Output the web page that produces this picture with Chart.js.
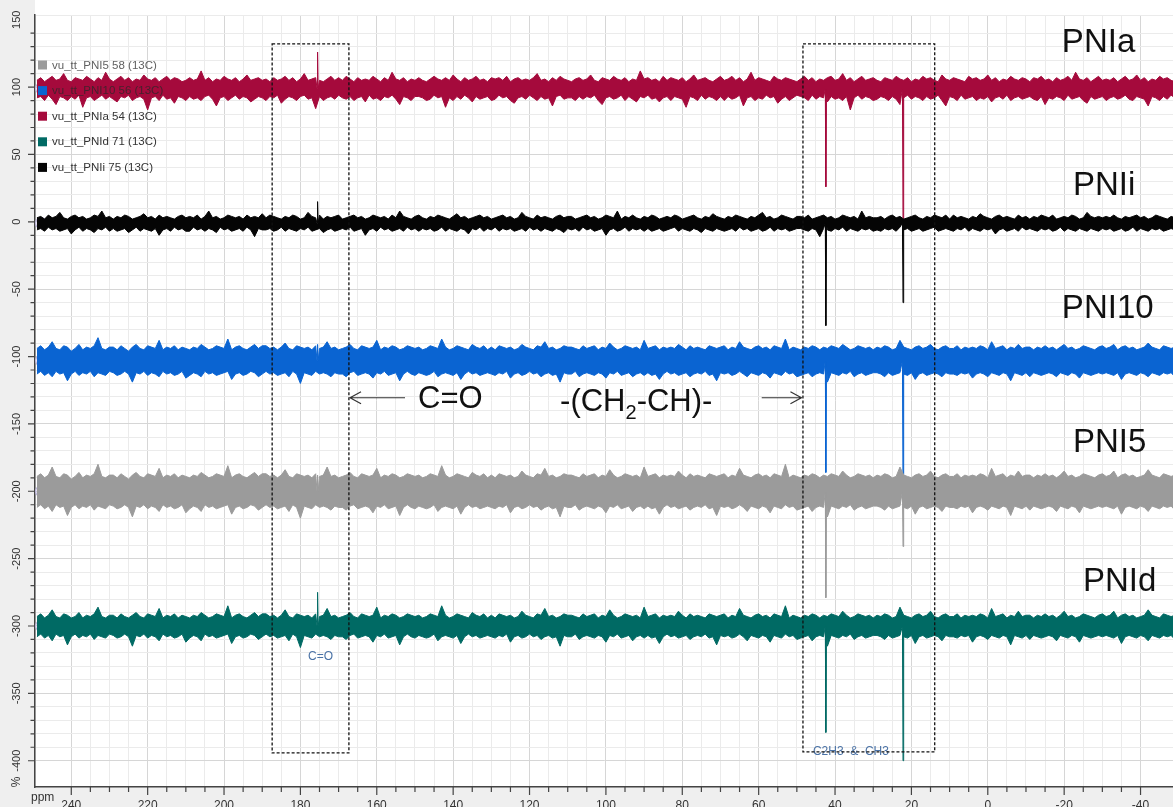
<!DOCTYPE html>
<html lang="en">
<head>
<meta charset="UTF-8">
<title>13C spectra PNI</title>
<script src="https://cdn.jsdelivr.net/npm/chart.js@4.4.1/dist/chart.umd.min.js"></script>
<style>
  html, body { margin: 0; padding: 0; background: #fff; overflow: hidden; }
  #wrap { width: 1173px; height: 807px; position: relative; }
</style>
</head>
<body>
<div id="wrap"><canvas id="nmr" width="1173" height="807"></canvas></div>
<script>
// each spectrum is stored as the upper / lower edge of its noise band,
// one value per ppm starting at ppmStart, relative to the trace baseline
const ppmStart = 249;
const peakPpm = [175.5, 42.4, 22.2];   // C=O, CH, CH2/CH3

const xTickLabels = [240, 220, 200, 180, 160, 140, 120, 100, 80, 60, 40, 20, 0, -20, -40];
const yTickLabels = [150, 100, 50, 0, -50, -100, -150, -200, -250, -300, -350, -400];

const pniaBase = 99;
const pniaPeaks = [27, -73, -100];
const pniaHi = [
  6,8,5,7,9,6,7,11,6,5,8,7,6,9,7,5,8,6,12,7,
  5,7,9,6,8,5,7,6,10,7,6,8,5,7,9,6,8,7,5,6,
  8,6,7,13,6,8,5,7,6,9,7,6,8,5,7,10,6,7,8,6,
  7,5,8,6,7,9,6,8,5,7,11,6,7,8,6,5,7,9,6,8,
  6,9,7,5,8,6,7,6,9,7,5,8,6,12,7,6,8,5,7,6,
  8,6,5,7,9,7,6,8,6,10,7,5,8,6,7,9,6,7,5,8,
  7,8,6,9,5,7,8,6,7,6,8,11,6,7,5,8,6,9,7,6,
  5,7,8,6,7,10,6,5,8,7,6,9,7,6,8,5,7,6,13,7,
  8,6,7,5,9,6,8,7,6,8,5,7,10,6,7,8,6,5,7,9,
  6,7,9,6,8,5,7,12,6,8,7,6,5,9,7,6,8,7,6,5,
  7,9,6,8,5,7,6,8,9,6,7,11,6,8,5,7,9,6,7,8,
  6,5,8,7,6,9,7,6,8,5,7,6,9,7,8,6,5,10,7,6,
  8,7,6,5,9,7,8,6,7,10,6,8,5,7,6,9,7,6,8,7,
  5,8,7,9,6,7,5,8,6,7,9,6,12,7,6,8,5,7,9,6,
  7,6,8,5,7,9,6,7,10,6,8,5,7,6,9,7,8,6,5,7
];
const pniaLo = [
  -7,-6,-9,-5,-8,-12,-6,-7,-9,-6,-8,-5,-14,-7,-6,-9,-7,-5,-8,-6,
  -8,-10,-6,-7,-5,-9,-7,-6,-8,-16,-7,-6,-9,-5,-8,-7,-11,-6,-7,-9,
  -6,-8,-7,-9,-6,-5,-8,-13,-7,-6,-9,-7,-5,-8,-6,-7,-10,-8,-6,-7,
  -9,-6,-7,-5,-11,-8,-6,-7,-9,-6,-5,-8,-7,-15,-6,-9,-7,-6,-8,-5,
  -7,-8,-6,-9,-7,-6,-10,-5,-8,-7,-9,-6,-7,-5,-8,-12,-6,-7,-9,-6,
  -6,-7,-9,-8,-5,-7,-6,-14,-7,-9,-6,-8,-5,-7,-10,-6,-8,-7,-6,-9,
  -8,-5,-7,-6,-9,-11,-7,-6,-8,-5,-7,-9,-6,-8,-7,-13,-6,-5,-8,-7,
  -7,-9,-6,-8,-6,-7,-5,-9,-12,-7,-6,-8,-7,-5,-9,-6,-8,-10,-6,-7,
  -5,-8,-7,-10,-7,-6,-9,-6,-7,-8,-14,-6,-7,-9,-5,-8,-6,-7,-9,-6,
  -9,-6,-8,-7,-5,-13,-7,-6,-9,-7,-8,-5,-7,-6,-11,-8,-6,-9,-7,-5,
  -6,-7,-9,-5,-8,-6,-7,-10,-6,-8,-7,-9,-6,-16,-7,-5,-8,-6,-7,-9,
  -8,-6,-7,-9,-6,-8,-12,-7,-5,-8,-6,-7,-9,-6,-8,-7,-5,-9,-13,-6,
  -7,-9,-5,-8,-7,-6,-9,-7,-8,-6,-10,-7,-6,-8,-5,-9,-7,-6,-8,-7,
  -6,-8,-9,-6,-12,-7,-8,-6,-7,-9,-5,-8,-7,-6,-9,-11,-6,-8,-7,-6,
  -9,-7,-6,-8,-7,-5,-8,-9,-6,-7,-8,-13,-6,-7,-9,-6,-8,-5,-7,-8
];

const pniiBase = -1;
const pniiPeaks = [16, -76, -59];
const pniiHi = [
  4,5,3,6,4,5,8,4,3,5,6,4,5,3,4,6,5,9,4,5,
  3,5,4,6,5,3,4,5,7,4,5,3,6,4,5,4,3,5,6,4,
  5,4,6,3,5,9,4,5,3,4,6,5,4,5,3,6,4,5,4,7,
  4,6,5,4,3,5,4,6,5,3,4,8,5,4,6,3,5,4,5,6,
  3,4,5,6,4,5,3,4,6,5,4,5,3,6,4,9,5,4,3,5,
  6,4,3,5,4,6,5,4,3,5,7,4,5,3,4,5,6,4,5,3,
  4,5,6,4,5,3,4,8,5,4,3,6,4,5,4,3,5,6,4,5,
  5,3,4,5,6,4,5,3,4,6,5,4,9,3,5,4,6,4,3,5,
  4,6,5,3,4,5,4,6,5,3,4,5,6,4,3,5,4,7,5,4,
  3,5,4,6,5,4,3,5,4,6,8,4,5,3,4,6,5,4,3,5,
  5,4,6,3,4,5,6,4,5,3,4,6,5,4,5,3,9,4,5,4,
  4,5,3,5,6,4,5,3,4,5,6,4,3,5,4,6,5,4,6,3,
  6,4,5,4,3,5,4,7,5,4,3,5,6,4,5,4,3,6,4,5,
  3,5,4,6,5,4,6,3,4,5,4,6,5,3,4,8,5,4,5,4,
  5,4,6,4,3,5,4,5,6,4,5,3,4,6,5,4,3,5,4,6
];
const pniiLo = [
  -5,-4,-6,-3,-5,-4,-6,-5,-4,-8,-5,-3,-6,-4,-5,-7,-4,-5,-3,-6,
  -4,-6,-5,-4,-7,-5,-3,-6,-4,-5,-6,-4,-9,-5,-4,-6,-3,-5,-4,-6,
  -6,-3,-5,-4,-6,-4,-5,-7,-3,-5,-4,-6,-5,-4,-6,-3,-5,-10,-4,-5,
  -5,-4,-6,-5,-3,-6,-4,-5,-6,-4,-5,-3,-6,-5,-4,-7,-5,-4,-6,-5,
  -4,-5,-3,-6,-5,-4,-9,-5,-4,-6,-3,-5,-4,-6,-5,-4,-6,-3,-5,-4,
  -6,-4,-5,-4,-6,-5,-3,-6,-4,-5,-6,-4,-5,-8,-4,-5,-3,-6,-4,-5,
  -3,-6,-4,-5,-4,-6,-5,-4,-6,-3,-5,-4,-6,-4,-5,-6,-4,-5,-7,-4,
  -5,-4,-6,-3,-5,-4,-6,-5,-4,-9,-5,-4,-6,-5,-3,-6,-4,-5,-4,-6,
  -4,-6,-5,-4,-6,-5,-4,-3,-6,-4,-5,-6,-4,-5,-7,-4,-5,-6,-4,-5,
  -6,-5,-4,-6,-3,-5,-4,-6,-5,-4,-6,-5,-3,-6,-4,-5,-4,-6,-5,-4,
  -4,-5,-6,-4,-5,-10,-4,-5,-6,-4,-5,-3,-6,-4,-5,-6,-4,-5,-4,-6,
  -5,-6,-4,-5,-4,-6,-3,-5,-4,-6,-5,-4,-6,-5,-4,-3,-6,-5,-4,-5,
  -6,-4,-5,-3,-6,-4,-5,-6,-4,-5,-4,-8,-5,-4,-6,-5,-4,-6,-3,-5,
  -4,-5,-6,-4,-5,-4,-6,-5,-3,-6,-4,-5,-6,-4,-5,-6,-4,-5,-6,-4,
  -5,-4,-6,-5,-4,-6,-5,-3,-6,-4,-5,-6,-4,-5,-4,-6,-5,-4,-5,-6
];

const pni10Base = -103;
const pni10Peaks = [12, -83, -103];
const pni10Hi = [
  9,11,8,10,14,9,8,11,10,7,9,12,8,10,9,11,17,9,8,10,
  10,8,11,9,7,10,12,9,8,11,10,9,15,8,10,9,11,8,10,9,
  8,10,9,12,10,8,9,11,10,9,16,8,10,11,9,8,10,12,9,11,
  11,9,10,8,10,13,9,8,11,10,9,10,8,11,9,10,14,9,10,8,
  9,10,12,9,8,11,10,9,10,15,8,10,9,11,10,8,9,11,10,9,
  10,8,9,11,10,9,16,10,8,9,11,10,9,8,12,10,9,11,8,10,
  8,11,10,9,10,8,9,12,10,9,8,11,10,14,9,10,8,9,11,10,
  10,9,8,11,9,10,11,8,10,9,13,10,8,9,11,10,9,10,8,15,
  9,10,11,8,10,9,10,9,12,10,8,11,9,10,9,8,11,10,9,10,
  11,8,10,9,14,10,9,8,10,11,9,10,8,11,10,9,16,8,10,9,
  8,10,9,11,10,8,10,9,11,10,9,12,10,8,9,11,10,9,10,8,
  10,9,11,10,8,9,15,10,9,8,10,11,9,10,12,9,8,10,11,9,
  9,11,8,10,9,10,9,11,10,8,14,9,10,11,8,10,9,12,9,10,
  10,8,10,9,11,9,10,8,10,12,9,10,8,9,11,10,9,8,10,11,
  9,10,12,8,10,11,9,10,8,9,10,13,10,9,8,11,10,9,10,8
];
const pni10Lo = [
  -10,-8,-11,-9,-12,-8,-10,-9,-15,-10,-8,-11,-9,-10,-8,-12,-9,-10,-11,-8,
  -9,-11,-10,-8,-10,-16,-9,-10,-8,-11,-9,-10,-12,-8,-10,-9,-11,-10,-8,-13,
  -11,-9,-10,-12,-8,-10,-9,-11,-10,-9,-8,-14,-10,-9,-11,-10,-8,-9,-12,-10,
  -8,-10,-9,-11,-10,-9,-12,-8,-10,-17,-9,-10,-11,-8,-10,-9,-10,-12,-9,-10,
  -10,-12,-9,-8,-11,-10,-9,-10,-13,-9,-10,-8,-11,-10,-9,-15,-10,-8,-10,-11,
  -9,-10,-11,-10,-8,-12,-10,-9,-10,-11,-9,-14,-10,-8,-10,-9,-11,-10,-9,-10,
  -11,-9,-10,-8,-13,-10,-9,-11,-10,-8,-10,-9,-12,-10,-9,-11,-10,-16,-9,-10,
  -10,-8,-12,-10,-9,-10,-11,-9,-10,-13,-9,-10,-8,-11,-10,-9,-12,-10,-9,-11,
  -9,-11,-10,-14,-10,-8,-10,-9,-11,-10,-9,-12,-10,-9,-10,-8,-11,-10,-15,-9,
  -10,-9,-11,-10,-8,-10,-12,-9,-10,-11,-9,-10,-13,-9,-10,-11,-8,-10,-9,-12,
  -11,-10,-9,-12,-10,-9,-10,-16,-9,-10,-11,-9,-10,-8,-12,-10,-9,-11,-10,-9,
  -9,-10,-12,-9,-11,-10,-9,-10,-11,-9,-14,-10,-9,-11,-10,-9,-10,-12,-9,-10,
  -10,-11,-9,-10,-9,-13,-10,-9,-10,-12,-9,-10,-11,-9,-10,-15,-9,-10,-11,-9,
  -12,-9,-10,-11,-10,-9,-10,-12,-9,-10,-11,-9,-10,-13,-9,-10,-11,-10,-9,-10,
  -9,-10,-11,-9,-14,-10,-9,-10,-11,-9,-10,-12,-9,-10,-11,-9,-10,-9,-12,-10
];

const pni5Base = -200;
const pni5Peaks = [12, -79, -41];
const pni5Hi = [
  11,13,10,12,18,11,10,13,12,9,11,14,10,12,11,13,20,11,10,12,
  12,10,13,11,9,12,14,11,10,13,12,11,17,10,12,11,13,10,12,11,
  10,12,11,14,12,10,11,13,12,11,19,10,12,13,11,10,12,14,11,13,
  13,11,12,10,12,16,11,10,13,12,11,12,10,13,11,12,18,11,12,10,
  11,12,14,11,10,13,12,11,12,17,10,12,11,13,12,10,11,13,12,11,
  12,10,11,13,12,11,19,12,10,11,13,12,11,10,14,12,11,13,10,12,
  10,13,12,11,12,10,11,15,12,11,10,13,12,17,11,12,10,11,13,12,
  12,11,10,13,11,12,13,10,12,11,16,12,10,11,13,12,11,12,10,18,
  11,12,13,10,12,11,12,11,15,12,10,13,11,12,11,10,13,12,11,12,
  13,10,12,11,17,12,11,10,12,13,11,12,10,13,12,11,20,10,12,11,
  10,12,11,13,12,10,12,11,13,12,11,15,12,10,11,13,12,11,12,10,
  12,11,13,12,10,11,18,12,11,10,12,13,11,12,15,11,10,12,13,11,
  11,13,10,12,11,12,11,13,12,10,17,11,12,13,10,12,11,15,11,12,
  12,10,12,11,13,11,12,10,12,15,11,12,10,11,13,12,11,10,12,13,
  11,12,15,10,12,13,11,12,10,11,12,16,12,11,10,13,12,11,12,10
];
const pni5Lo = [
  -12,-10,-13,-11,-15,-10,-12,-11,-18,-12,-10,-13,-11,-12,-10,-14,-11,-12,-13,-10,
  -11,-13,-12,-10,-12,-19,-11,-12,-10,-13,-11,-12,-15,-10,-12,-11,-13,-12,-10,-16,
  -13,-11,-12,-15,-10,-12,-11,-13,-12,-11,-10,-17,-12,-11,-13,-12,-10,-11,-14,-12,
  -10,-12,-11,-13,-12,-11,-15,-10,-12,-20,-11,-12,-13,-10,-12,-11,-12,-14,-11,-12,
  -12,-14,-11,-10,-13,-12,-11,-12,-16,-11,-12,-10,-13,-12,-11,-18,-12,-10,-12,-13,
  -11,-12,-13,-12,-10,-15,-12,-11,-12,-13,-11,-17,-12,-10,-12,-11,-13,-12,-11,-12,
  -13,-11,-12,-10,-16,-12,-11,-13,-12,-10,-12,-11,-14,-12,-11,-13,-12,-19,-11,-12,
  -12,-10,-14,-12,-11,-12,-13,-11,-12,-16,-11,-12,-10,-13,-12,-11,-15,-12,-11,-13,
  -11,-13,-12,-17,-12,-10,-12,-11,-13,-12,-11,-14,-12,-11,-12,-10,-13,-12,-18,-11,
  -12,-11,-13,-12,-10,-12,-15,-11,-12,-13,-11,-12,-16,-11,-12,-13,-10,-12,-11,-14,
  -13,-12,-11,-15,-12,-11,-12,-19,-11,-12,-13,-11,-12,-10,-14,-12,-11,-13,-12,-11,
  -11,-12,-14,-11,-13,-12,-11,-12,-13,-11,-17,-12,-11,-13,-12,-11,-12,-15,-11,-12,
  -12,-13,-11,-12,-11,-16,-12,-11,-12,-14,-11,-12,-13,-11,-12,-18,-11,-12,-13,-11,
  -14,-11,-12,-13,-12,-11,-12,-15,-11,-12,-13,-11,-12,-16,-11,-12,-13,-12,-11,-12,
  -11,-12,-13,-11,-17,-12,-11,-12,-13,-11,-12,-15,-11,-12,-13,-11,-12,-11,-14,-12
];

const pnidBase = -300;
const pnidPeaks = [25, -79, -100];
const pnidHi = [
  7,9,6,8,12,7,6,9,8,6,7,10,6,8,7,9,14,7,6,8,
  8,6,9,7,6,8,10,7,6,9,8,7,13,6,8,7,9,6,8,7,
  6,8,7,10,8,6,7,9,8,7,15,6,8,9,7,6,8,10,7,9,
  9,7,8,6,8,12,7,6,9,8,7,8,6,9,7,8,13,7,8,6,
  7,8,10,7,6,9,8,7,8,14,6,8,7,9,8,6,7,9,8,7,
  8,6,7,9,8,7,15,8,6,7,9,8,7,6,10,8,7,9,6,8,
  6,9,8,7,8,6,7,11,8,7,6,9,8,13,7,8,6,7,9,8,
  8,7,6,9,7,8,9,6,8,7,12,8,6,7,9,8,7,8,6,14,
  7,8,9,6,8,7,8,7,11,8,6,9,7,8,7,6,9,8,7,8,
  9,6,8,7,13,8,7,6,8,9,7,8,6,9,8,7,15,6,8,7,
  6,8,7,9,8,6,8,7,9,8,7,11,8,6,7,9,8,7,8,6,
  8,7,9,8,6,7,14,8,7,6,8,9,7,8,11,7,6,8,9,7,
  7,9,6,8,7,8,7,9,8,6,13,7,8,9,6,8,7,11,7,8,
  8,6,8,7,9,7,8,6,8,11,7,8,6,7,9,8,7,6,8,9,
  7,8,11,6,8,9,7,8,6,7,8,12,8,7,6,9,8,7,8,6
];
const pnidLo = [
  -8,-6,-9,-7,-11,-6,-8,-7,-14,-8,-6,-9,-7,-8,-6,-10,-7,-8,-9,-6,
  -7,-9,-8,-6,-8,-15,-7,-8,-6,-9,-7,-8,-11,-6,-8,-7,-9,-8,-6,-12,
  -9,-7,-8,-11,-6,-8,-7,-9,-8,-7,-6,-13,-8,-7,-9,-8,-6,-7,-10,-8,
  -6,-8,-7,-9,-8,-7,-11,-6,-8,-16,-7,-8,-9,-6,-8,-7,-8,-10,-7,-8,
  -8,-10,-7,-6,-9,-8,-7,-8,-12,-7,-8,-6,-9,-8,-7,-14,-8,-6,-8,-9,
  -7,-8,-9,-8,-6,-11,-8,-7,-8,-9,-7,-13,-8,-6,-8,-7,-9,-8,-7,-8,
  -9,-7,-8,-6,-12,-8,-7,-9,-8,-6,-8,-7,-10,-8,-7,-9,-8,-15,-7,-8,
  -8,-6,-10,-8,-7,-8,-9,-7,-8,-12,-7,-8,-6,-9,-8,-7,-11,-8,-7,-9,
  -7,-9,-8,-13,-8,-6,-8,-7,-9,-8,-7,-10,-8,-7,-8,-6,-9,-8,-14,-7,
  -8,-7,-9,-8,-6,-8,-11,-7,-8,-9,-7,-8,-12,-7,-8,-9,-6,-8,-7,-10,
  -9,-8,-7,-11,-8,-7,-8,-15,-7,-8,-9,-7,-8,-6,-10,-8,-7,-9,-8,-7,
  -7,-8,-10,-7,-9,-8,-7,-8,-9,-7,-13,-8,-7,-9,-8,-7,-8,-11,-7,-8,
  -8,-9,-7,-8,-7,-12,-8,-7,-8,-10,-7,-8,-9,-7,-8,-14,-7,-8,-9,-7,
  -10,-7,-8,-9,-8,-7,-8,-11,-7,-8,-9,-7,-8,-12,-7,-8,-9,-8,-7,-8,
  -7,-8,-9,-7,-13,-8,-7,-8,-9,-7,-8,-11,-7,-8,-9,-7,-8,-7,-10,-8
];

// legend entries, top to bottom as in the spectrum viewer
const legendNames = ['vu_tt_PNI5 58 (13C)', 'vu_tt_PNI10 56 (13C)', 'vu_tt_PNIa 54 (13C)', 'vu_tt_PNId 71 (13C)', 'vu_tt_PNIi 75 (13C)'];
const legendColors = ['#9b9b9b', '#0a64d2', '#a50a3c', '#006a64', '#050505'];

// one edge of a band; peaks pointing the same way as the edge are merged in
function buildEdge(base, edge, peaks, up) {
  const pts = edge.map((n, i) => ({ x: ppmStart - i, y: base + n }));
  peakPpm.forEach((p, k) => {
    if ((peaks[k] > 0) !== up) return;
    pts.push({ x: p + 0.15, y: base }, { x: p, y: base + peaks[k] }, { x: p - 0.15, y: base });
  });
  pts.sort((a, b) => b.x - a.x);
  return pts;
}

function band(label, color, base, hi, lo, peaks, order) {
  const common = {
    borderColor: color,
    backgroundColor: color,
    borderWidth: 1,
    tension: 0,
    pointRadius: 0,
    order: order
  };
  return [
    Object.assign({ label: label, data: buildEdge(base, hi, peaks, true), fill: '+1' }, common),
    Object.assign({ label: label + ' lo', data: buildEdge(base, lo, peaks, false), fill: false }, common)
  ];
}

const traceBases = [pnidBase, pni5Base, pni10Base, pniiBase, pniaBase];

const datasets = [].concat(
  band('PNId', '#006a64', pnidBase, pnidHi, pnidLo, pnidPeaks, 1),
  band('PNI5', '#9b9b9b', pni5Base, pni5Hi, pni5Lo, pni5Peaks, 2),
  band('PNI10', '#0a64d2', pni10Base, pni10Hi, pni10Lo, pni10Peaks, 3),
  band('PNIi', '#050505', pniiBase, pniiHi, pniiLo, pniiPeaks, 4),
  band('PNIa', '#a50a3c', pniaBase, pniaHi, pniaLo, pniaPeaks, 5)
);

// sample names written at the right, anchored in ppm / % units
const sampleLabels = [
  { text: 'PNIa', ppm: -19.4, v: 126 },
  { text: 'PNIi', ppm: -22.3, v: 20 },
  { text: 'PNI10', ppm: -19.4, v: -71.5 },
  { text: 'PNI5', ppm: -22.3, v: -171 },
  { text: 'PNId', ppm: -24.9, v: -274 }
];
const boxes = [
  { from: 187.4, to: 167.3, top: 132, bottom: -394.2 },
  { from: 48.4, to: 13.9, top: 132, bottom: -393.5 }
];

const FONT = '"Liberation Sans", Arial, Helvetica, sans-serif';

function arrow(ctx, x1, y, x2) {
  const dir = Math.sign(x2 - x1);
  ctx.beginPath();
  ctx.moveTo(x1, y);
  ctx.lineTo(x2, y);
  ctx.moveTo(x2 - dir * 11, y - 6);
  ctx.lineTo(x2, y);
  ctx.lineTo(x2 - dir * 11, y + 6);
  ctx.stroke();
}

const decor = {
  id: 'decor',
  beforeDraw(chart) {
    const { ctx, chartArea: a } = chart;
    ctx.save();
    ctx.fillStyle = '#efefef';
    ctx.fillRect(0, 0, a.left, chart.height);
    ctx.fillRect(0, a.bottom, chart.width, chart.height - a.bottom);
    ctx.restore();
  },
  beforeDatasetsDraw(chart) {
    const { ctx } = chart;
    const xs = chart.scales.x, ys = chart.scales.y;
    ctx.save();
    // start markers of the viewer
    ctx.strokeStyle = '#bdb6dc';
    ctx.lineWidth = 1.3;
    traceBases.forEach(b => {
      ctx.beginPath();
      ctx.arc(xs.getPixelForValue(247.9), ys.getPixelForValue(b), 5.5, 0, Math.PI * 2);
      ctx.stroke();
    });
    ctx.restore();
  },
  afterDatasetsDraw(chart) {
    const { ctx, chartArea: a } = chart;
    const xs = chart.scales.x, ys = chart.scales.y;
    const px = v => xs.getPixelForValue(v), py = v => ys.getPixelForValue(v);
    ctx.save();

    // legend of the viewer
    ctx.font = '11.5px ' + FONT;
    ctx.textBaseline = 'middle';
    legendNames.forEach((name, i) => {
      const y = 65 + i * 25.6;
      ctx.fillStyle = legendColors[i];
      ctx.fillRect(38, y - 4.5, 9, 9);
      ctx.fillStyle = i < 2 ? 'rgba(40,40,40,0.75)' : '#333';
      ctx.fillText(name, 52, y + 0.5);
    });

    // small annotation texts of the viewer
    ctx.font = '12px ' + FONT;
    ctx.fillStyle = '#4a72a6';
    ctx.textBaseline = 'middle';
    ctx.fillText('C=O', px(178), py(-323));
    ctx.fillText('C2H3  &  CH3', px(45.8), py(-393.6));

    // dashed boxes
    ctx.strokeStyle = '#111';
    ctx.lineWidth = 1.3;
    ctx.setLineDash([3, 2]);
    boxes.forEach(b => {
      ctx.strokeRect(px(b.from), py(b.top), px(b.to) - px(b.from), py(b.bottom) - py(b.top));
    });
    ctx.setLineDash([]);

    // arrows and group labels
    ctx.strokeStyle = '#333';
    ctx.lineWidth = 1.2;
    arrow(ctx, px(152.6), py(-130.6), px(167.0));
    arrow(ctx, px(59.2), py(-130.6), px(48.8));
    ctx.fillStyle = '#111';
    ctx.font = '31px ' + FONT;
    ctx.textBaseline = 'middle';
    ctx.fillText('C=O', px(149.2), py(-132));
    let x = px(112);
    const yc = py(-134);
    ctx.fillText('-(CH', x, yc);
    x += ctx.measureText('-(CH').width;
    ctx.font = '20px ' + FONT;
    ctx.fillText('2', x, yc + 11);
    x += ctx.measureText('2').width;
    ctx.font = '31px ' + FONT;
    ctx.fillText('-CH)-', x, yc);

    // sample names
    ctx.font = '33px ' + FONT;
    ctx.textBaseline = 'alphabetic';
    sampleLabels.forEach(l => ctx.fillText(l.text, px(l.ppm), py(l.v)));

    // tick marks
    ctx.strokeStyle = '#444';
    ctx.lineWidth = 1.2;
    ctx.beginPath();
    ys.ticks.forEach(t => {
      if (t.value % 10 !== 0) return;
      const y = py(t.value);
      const len = t.value % 50 === 0 ? 7 : 4.5;
      ctx.moveTo(a.left - len, y);
      ctx.lineTo(a.left, y);
    });
    xs.ticks.forEach(t => {
      if (t.value % 5 !== 0) return;
      const xx = px(t.value);
      const len = t.value % 20 === 0 ? 8 : 5;
      ctx.moveTo(xx, a.bottom);
      ctx.lineTo(xx, a.bottom + len);
    });
    ctx.stroke();

    // tick labels
    ctx.fillStyle = '#333';
    ctx.font = '11px ' + FONT;
    ctx.textAlign = 'center';
    ctx.textBaseline = 'middle';
    yTickLabels.forEach(v => {
      ctx.save();
      ctx.translate(17, py(v));
      ctx.rotate(-Math.PI / 2);
      ctx.fillText(String(v), 0, 0);
      ctx.restore();
    });
    ctx.font = '12px ' + FONT;
    ctx.textBaseline = 'top';
    xTickLabels.forEach(v => ctx.fillText(String(v), px(v), a.bottom + 13));
    ctx.textAlign = 'left';
    ctx.fillText('ppm', 31, a.bottom + 5);
    ctx.save();
    ctx.translate(17, a.bottom - 5);
    ctx.rotate(-Math.PI / 2);
    ctx.textBaseline = 'middle';
    ctx.textAlign = 'center';
    ctx.fillText('%', 0, 0);
    ctx.restore();

    ctx.restore();
  }
};

function gridColor(step) {
  return c => (c.tick && Math.abs(c.tick.value % step) < 1e-6) ? '#d6d6d6' : '#ebebeb';
}

new Chart(document.getElementById('nmr'), {
  type: 'line',
  data: { datasets: datasets },
  options: {
    responsive: false,
    animation: false,
    devicePixelRatio: 1,
    layout: { autoPadding: false, padding: { left: 35, top: 15, right: 0, bottom: 20 } },
    plugins: { legend: { display: false }, tooltip: { enabled: false } },
    scales: {
      x: {
        type: 'linear',
        reverse: true,
        min: -48.5,
        max: 249.5,
        ticks: { display: false, stepSize: 5 },
        grid: { color: gridColor(20), drawTicks: false, lineWidth: 1 },
        border: { display: true, color: '#444', width: 1.5 },
        afterFit: s => { s.height = 0; }
      },
      y: {
        min: -419.5,
        max: 153.5,
        ticks: { display: false, stepSize: 10 },
        grid: { color: gridColor(50), drawTicks: false, lineWidth: 1 },
        border: { display: true, color: '#444', width: 1.5 },
        afterFit: s => { s.width = 0; }
      }
    }
  },
  plugins: [decor]
});
</script>
</body>
</html>
